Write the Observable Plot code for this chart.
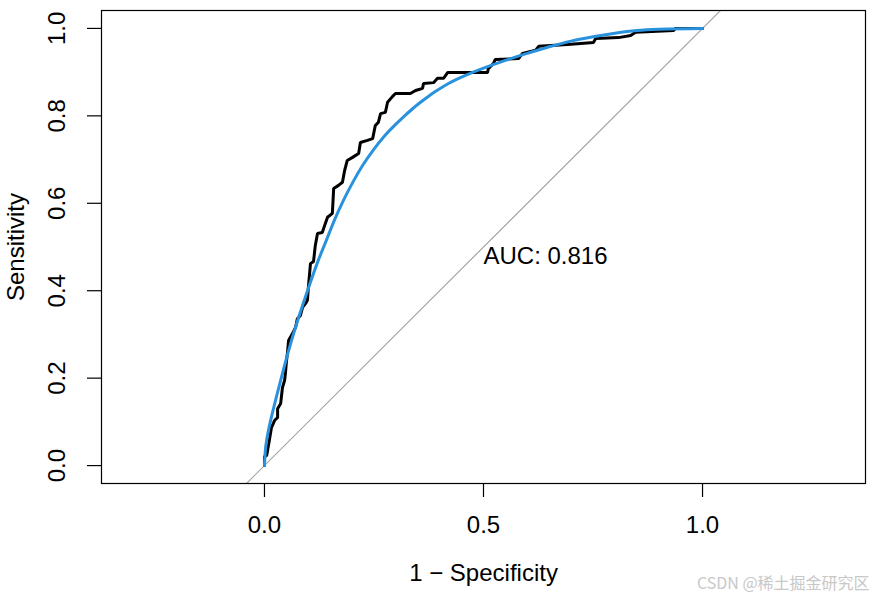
<!DOCTYPE html>
<html>
<head>
<meta charset="utf-8">
<script src="https://cdn.jsdelivr.net/npm/d3@7"></script>
<script src="https://cdn.jsdelivr.net/npm/@observablehq/plot@0.6"></script>
<style>
  html, body { margin: 0; padding: 0; background: #fff; }
  #chart { position: relative; width: 882px; height: 601px; }
  #wm { position: absolute; left: 697px; top: 570px; font: 16px "Noto Sans CJK SC", sans-serif; color: #c8c8c8; }
</style>
</head>
<body>
<div id="chart"></div>
<script>
// Empirical ROC curve (1 - specificity, sensitivity)
const empFpr = [0, 0, 0.005, 0.007, 0.011, 0.016, 0.023, 0.030, 0.030, 0.037, 0.041, 0.046, 0.048, 0.050, 0.053, 0.055,
  0.064, 0.071, 0.075, 0.082, 0.087, 0.094, 0.098, 0.100, 0.105, 0.112, 0.116, 0.121, 0.132, 0.139, 0.144, 0.155,
  0.158, 0.169, 0.178, 0.183, 0.189, 0.201, 0.215, 0.219, 0.235, 0.247, 0.253, 0.260, 0.265, 0.276, 0.281, 0.292,
  0.299, 0.333, 0.345, 0.361, 0.363, 0.386, 0.395, 0.409, 0.418, 0.509, 0.511, 0.523, 0.527, 0.580, 0.589, 0.619,
  0.626, 0.692, 0.751, 0.756, 0.808, 0.836, 0.847, 0.934, 0.938, 1];
const empSens = [0, 0.021, 0.023, 0.034, 0.057, 0.087, 0.103, 0.110, 0.130, 0.142, 0.178, 0.195, 0.213, 0.236, 0.263, 0.286,
  0.302, 0.316, 0.336, 0.343, 0.362, 0.371, 0.378, 0.405, 0.462, 0.467, 0.503, 0.531, 0.533, 0.554, 0.568, 0.577,
  0.634, 0.641, 0.648, 0.675, 0.698, 0.705, 0.714, 0.739, 0.744, 0.748, 0.778, 0.785, 0.805, 0.808, 0.831, 0.844,
  0.851, 0.851, 0.858, 0.863, 0.874, 0.876, 0.886, 0.886, 0.899, 0.899, 0.908, 0.920, 0.929, 0.931, 0.943, 0.950,
  0.959, 0.963, 0.968, 0.977, 0.979, 0.984, 0.991, 0.995, 1.0, 1.0];

// Smoothed (binormal) ROC curve
const smoothFpr = [0, 0.002, 0.005, 0.01, 0.02, 0.03, 0.045, 0.06, 0.08, 0.10, 0.12, 0.14, 0.16, 0.18, 0.20, 0.225,
  0.25, 0.275, 0.30, 0.32, 0.34, 0.36, 0.38, 0.40, 0.42, 0.46, 0.50, 0.55, 0.60, 0.65, 0.70, 0.75, 0.80, 0.85, 0.90, 1.0];
const smoothSens = [0, 0.035, 0.058, 0.085, 0.128, 0.168, 0.226, 0.280, 0.345, 0.405, 0.462, 0.512, 0.562, 0.606, 0.645, 0.688,
  0.724, 0.755, 0.781, 0.800, 0.818, 0.834, 0.849, 0.862, 0.874, 0.893, 0.909, 0.927, 0.943, 0.958, 0.971, 0.981, 0.989, 0.995, 0.998, 1.0];

const xTicks = [0, 0.5, 1];
const yTicks = [0, 0.2, 0.4, 0.6, 0.8, 1];
const diagX = [-0.5, 1.5];
const aucLabel = "AUC: 0.816";
const xTitle = "1 \u2212 Specificity";
const yTitle = "Sensitivity";

const emp = empFpr.map((x, i) => ({x, y: empSens[i]}));
const smooth = smoothFpr.map((x, i) => ({x, y: smoothSens[i]}));
const diag = diagX.map(x => ({x, y: x}));

const FONT = "Liberation Sans, Arial, Helvetica, sans-serif";
const FS = 24;

const chart = Plot.plot({
  width: 882,
  height: 601,
  marginLeft: 101,
  marginRight: 17,
  marginTop: 10,
  marginBottom: 118,
  style: {fontFamily: FONT, background: "#fff", color: "#000"},
  x: {domain: [-0.372, 1.372], axis: null},
  y: {domain: [-0.041, 1.041], axis: null},
  marks: [
    Plot.line(diag, {x: "x", y: "y", stroke: "#a6a6a6", strokeWidth: 1.2, clip: true}),
    Plot.line(emp, {x: "x", y: "y", stroke: "#000", strokeWidth: 3, strokeLinejoin: "miter", curve: "linear"}),
    Plot.line(smooth, {x: "x", y: "y", stroke: "#2a92dd", strokeWidth: 3, curve: "monotone-x"}),
    Plot.frame({stroke: "#000", strokeWidth: 1.2}),
    Plot.axisX(xTicks, {anchor: "bottom", tickSize: 14, tickFormat: () => "", label: null, stroke: "#000", strokeWidth: 1.2}),
    Plot.axisY(yTicks, {anchor: "left", tickSize: 14, tickFormat: () => "", label: null, stroke: "#000", strokeWidth: 1.2}),
    Plot.text(xTicks, {x: d => d, frameAnchor: "bottom", dy: 49, text: d => d.toFixed(1), fontSize: FS, fill: "#000", textAnchor: "middle", lineAnchor: "bottom"}),
    Plot.text(yTicks, {y: d => d, frameAnchor: "left", dx: -37, rotate: -90, text: d => d.toFixed(1), fontSize: FS, fill: "#000", textAnchor: "middle", lineAnchor: "bottom"}),
    Plot.text([xTitle], {frameAnchor: "bottom", dy: 97, text: d => d, fontSize: FS, fill: "#000", textAnchor: "middle", lineAnchor: "bottom"}),
    Plot.text([yTitle], {frameAnchor: "left", dx: -78, rotate: -90, text: d => d, fontSize: FS, fill: "#000", textAnchor: "middle", lineAnchor: "bottom"}),
    Plot.text([aucLabel], {x: () => 0.5, y: () => 0.5, text: d => d, fontSize: FS, fill: "#000", textAnchor: "start", lineAnchor: "top"})
  ]
});
document.getElementById("chart").appendChild(chart);
const wm = document.createElement("div");
wm.id = "wm";
wm.textContent = "CSDN @稀土掘金研究区";
document.getElementById("chart").appendChild(wm);
</script>
</body>
</html>
